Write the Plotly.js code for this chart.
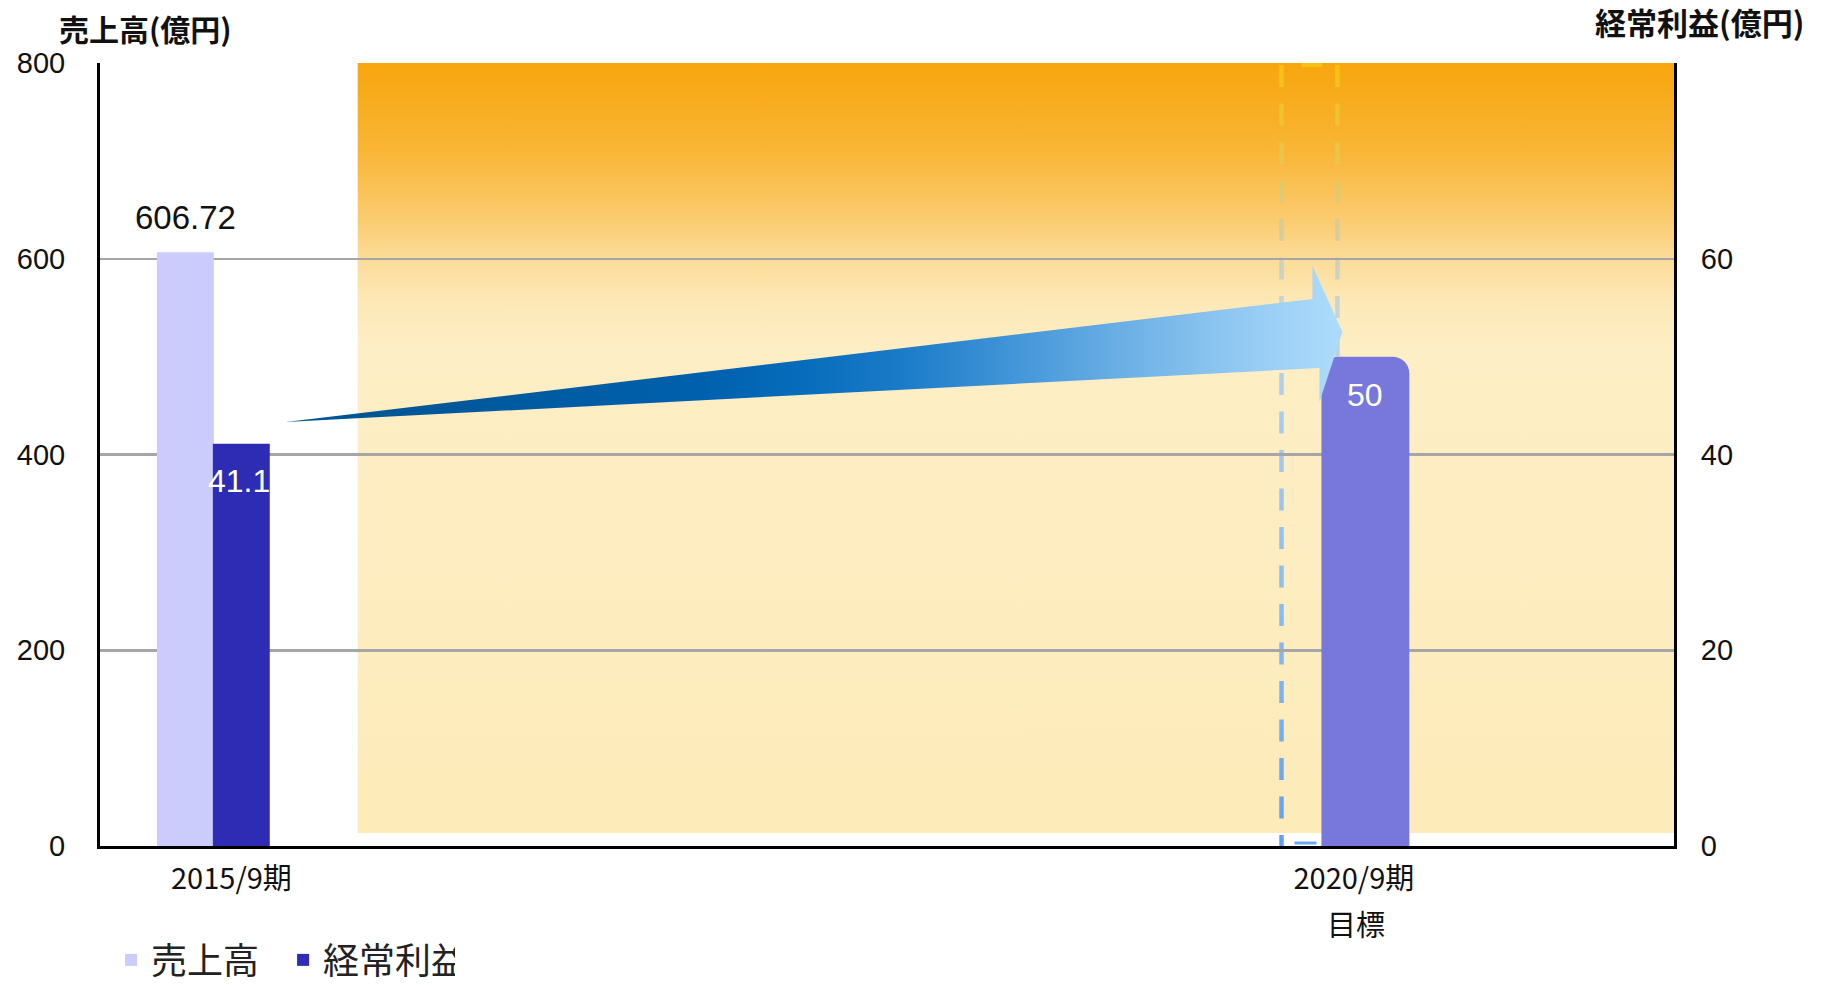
<!DOCTYPE html>
<html>
<head>
<meta charset="utf-8">
<script src="https://cdn.plot.ly/plotly-3.0.1.min.js"></script>
<style>html,body{margin:0;padding:0;background:#fff;}#chart{width:1833px;height:985px;}</style>
</head>
<body>
<div id="chart"></div>
<script>
// ---- data ----
const categories = ['2015/9期', '2020/9期'];
const categorySubLabels = ['', '目標'];
const salesValues = [606.72, null];          // 売上高 (億円)
const profitValues = [41.1, 50];             // 経常利益 (億円)
const salesTickVals = [0, 200, 400, 600, 800];
const profitTickVals = [0, 20, 40, 60];
const seriesNames = ['売上高', '経常利益'];
const axisTitles = ['売上高(億円)', '経常利益(億円)'];

// ---- decoration (plot-area-relative svg, 1576 x 783) ----
const W = 1576, H = 783;
const bgSvg = `<svg xmlns="http://www.w3.org/2000/svg" width="${W}" height="${H}" viewBox="0 0 ${W} ${H}">
<defs>
<linearGradient id="bg" x1="0" y1="0" x2="0" y2="1">
<stop offset="0" stop-color="#f7a60d"/>
<stop offset="0.113" stop-color="#f9b535"/>
<stop offset="0.204" stop-color="#fbcc70"/>
<stop offset="0.255" stop-color="#fcdc98"/>
<stop offset="0.31" stop-color="#fde8b6"/>
<stop offset="0.37" stop-color="#feeec5"/>
<stop offset="1" stop-color="#fdebb9"/>
</linearGradient>
<linearGradient id="dl" gradientUnits="userSpaceOnUse" x1="0" y1="0" x2="0" y2="${H}">
<stop offset="0" stop-color="#f8c010"/>
<stop offset="0.12" stop-color="#e8c64a"/>
<stop offset="0.25" stop-color="#cdd0bb"/>
<stop offset="0.33" stop-color="#c4d4e2"/>
<stop offset="0.45" stop-color="#a6cdf2"/>
<stop offset="0.75" stop-color="#80b8f4"/>
<stop offset="1" stop-color="#60a0f4"/>
</linearGradient>
</defs>
<rect x="258" y="0" width="1318" height="770" fill="url(#bg)"/>
<g stroke="url(#dl)" stroke-width="4.5" fill="none" stroke-dasharray="22 16.5">
<line x1="1183" y1="2" x2="1183" y2="783"/>
<line x1="1239" y1="2" x2="1239" y2="783"/>
</g>
<line x1="1203" y1="2" x2="1224" y2="2" stroke="#f8c010" stroke-width="4"/>
<line x1="1196" y1="780" x2="1218" y2="780" stroke="#6aa8f4" stroke-width="3"/>
</svg>`;

const arrowSvg = `<svg xmlns="http://www.w3.org/2000/svg" width="${W}" height="${H}" viewBox="0 0 ${W} ${H}">
<defs>
<linearGradient id="ar" gradientUnits="userSpaceOnUse" x1="186" y1="0" x2="1244" y2="0">
<stop offset="0" stop-color="#00538f"/>
<stop offset="0.392" stop-color="#0060ad"/>
<stop offset="0.487" stop-color="#066cbb"/>
<stop offset="0.581" stop-color="#1a7bc8"/>
<stop offset="0.676" stop-color="#3d92d6"/>
<stop offset="0.8" stop-color="#6fb1e6"/>
<stop offset="0.92" stop-color="#98cdf4"/>
<stop offset="1" stop-color="#aedcfc"/>
</linearGradient>
</defs>
<polygon points="186,359 1214,236 1214,203 1244,269 1221,339 1221,305" fill="url(#ar)"/>
</svg>`;

const svgUri = s => 'data:image/svg+xml;charset=utf-8,' + encodeURIComponent(s);

// ---- traces ----
const traces = [
  {
    type: 'bar', name: seriesNames[0], x: categories, y: salesValues, yaxis: 'y',
    marker: {color: '#ccccfc'}, offset: -0.0664, width: 0.0507, hoverinfo: 'x+y'
  },
  {
    type: 'bar', name: seriesNames[1], x: [categories[0]], y: [profitValues[0]], yaxis: 'y2',
    marker: {color: '#2e2bb4'}, offset: -0.01655, width: 0.0507, hoverinfo: 'x+y'
  },
  {
    type: 'bar', name: seriesNames[1] + '(目標)', x: [categories[1]], y: [profitValues[1]], yaxis: 'y2',
    marker: {color: '#7878dc', cornerradius: 17}, offset: -0.0289, width: 0.0783,
    showlegend: false, hoverinfo: 'x+y'
  }
];

const numFont = 'Liberation Sans, Arial, sans-serif';
const cjkFont = 'Noto Sans CJK JP, sans-serif';

const annotations = [
  {text: axisTitles[0], xref: 'paper', yref: 'paper', x: 0.0286, y: 1.0447,
   xanchor: 'center', yanchor: 'middle', showarrow: false,
   font: {family: cjkFont, size: 30, color: '#111', weight: 'bold'}},
  {text: axisTitles[1], xref: 'paper', yref: 'paper', x: 1.0165, y: 1.0524,
   xanchor: 'center', yanchor: 'middle', showarrow: false,
   font: {family: cjkFont, size: 31, color: '#111', weight: 'bold'}},
  {text: String(salesValues[0]), xref: 'x', yref: 'y', x: categories[0], y: salesValues[0],
   xshift: -46, yshift: 35, showarrow: false, xanchor: 'center', yanchor: 'middle',
   font: {family: numFont, size: 33, color: '#111'}},
  {text: String(profitValues[0]), xref: 'x', yref: 'y2', x: categories[0], y: profitValues[0],
   xshift: 8, yshift: -37, showarrow: false, xanchor: 'center', yanchor: 'middle',
   font: {family: numFont, size: 32, color: '#ffffff'}},
  {text: String(profitValues[1]), xref: 'x', yref: 'y2', x: categories[1], y: profitValues[1],
   xshift: 11.5, yshift: -38, showarrow: false, xanchor: 'center', yanchor: 'middle',
   font: {family: numFont, size: 32, color: '#ffffff'}}
];
categorySubLabels.forEach((t, i) => {
  if (t) annotations.push({text: t, xref: 'x', yref: 'paper', x: categories[i], y: 0,
    yshift: -77, xshift: 2, showarrow: false, xanchor: 'center', yanchor: 'middle',
    font: {family: cjkFont, size: 29, color: '#111'}});
});

const layout = {
  width: 1833, height: 985,
  margin: {l: 100, r: 159, t: 63, b: 139, pad: 0},
  paper_bgcolor: '#ffffff', plot_bgcolor: 'rgba(0,0,0,0)',
  barmode: 'overlay',
  showlegend: true,
  legend: {
    orientation: 'h', xref: 'container', yref: 'container',
    x: 0.0606, xanchor: 'left', y: 0.0254, yanchor: 'middle', entrywidth: 127,
    font: {family: cjkFont, size: 36, color: '#222'}, bgcolor: 'rgba(0,0,0,0)'
  },
  xaxis: {
    type: 'category', categoryorder: 'array', categoryarray: categories,
    range: [-0.1171, 1.2852], showline: true, linecolor: '#000', linewidth: 3,
    ticks: '', showgrid: false, zeroline: false, fixedrange: true,
    tickfont: {family: cjkFont, size: 29, color: '#111'}, ticklabelstandoff: 5
  },
  yaxis: {
    range: [0, 800], tickvals: salesTickVals, ticktext: salesTickVals.map(String),
    showline: true, linecolor: '#000', linewidth: 3, ticks: '',
    showgrid: true, gridcolor: '#a6a6a6', gridwidth: 2.5, zeroline: false,
    tickfont: {family: numFont, size: 29, color: '#111'}, ticklabelstandoff: 26
  },
  yaxis2: {
    range: [0, 80], overlaying: 'y', side: 'right', tickvals: profitTickVals,
    ticktext: profitTickVals.map(String),
    showline: true, linecolor: '#000', linewidth: 3, ticks: '',
    showgrid: false, zeroline: false,
    tickfont: {family: numFont, size: 29, color: '#111'}, ticklabelstandoff: 18
  },
  images: [
    {source: svgUri(bgSvg), xref: 'paper', yref: 'paper', x: 0, y: 1, sizex: 1, sizey: 1,
     xanchor: 'left', yanchor: 'top', sizing: 'stretch', layer: 'below'},
    {source: svgUri(arrowSvg), xref: 'paper', yref: 'paper', x: 0, y: 1, sizex: 1, sizey: 1,
     xanchor: 'left', yanchor: 'top', sizing: 'stretch', layer: 'above'}
  ],
  annotations: annotations
};

Plotly.newPlot('chart', traces, layout, {displayModeBar: false, staticPlot: true});
</script>
</body>
</html>
